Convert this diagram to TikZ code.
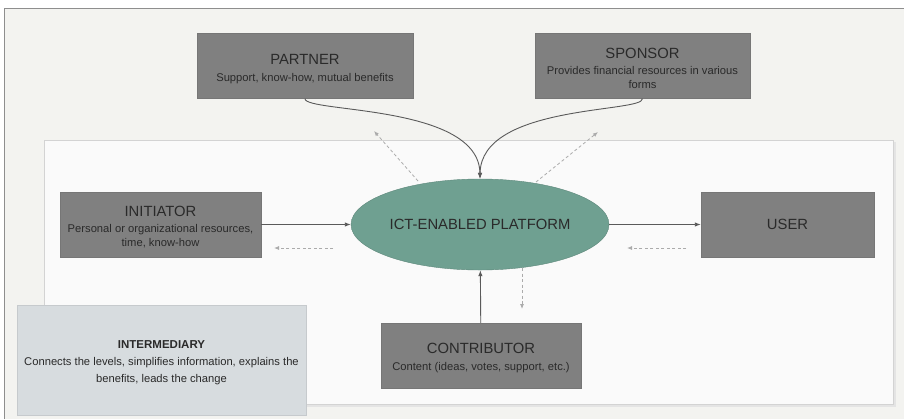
\documentclass[tikz,border=0pt]{standalone}
\usepackage{fontspec}
\setmainfont{Liberation Sans}
\usetikzlibrary{arrows.meta,shapes.geometric}
\definecolor{Backdrop}{HTML}{F3F3F0}
\definecolor{Frame}{HTML}{8E8E8E}
\definecolor{Panel}{HTML}{FAFAFA}
\definecolor{PanelLine}{HTML}{D3D3D3}
\definecolor{Actor}{HTML}{808080}
\definecolor{Ink}{HTML}{2A2A2A}
\definecolor{Platform}{HTML}{6FA091}
\definecolor{Bridge}{HTML}{D7DCDF}
\definecolor{Flow}{HTML}{5A5A5A}
\definecolor{Back}{HTML}{ABABAB}
\newcommand{\titlesize}{\fontsize{14.8bp}{18bp}\selectfont\rule{0pt}{16bp}}
\newcommand{\subsize}{\fontsize{11.2bp}{14bp}\selectfont}
\tikzset{
 actor/.style={draw=Actor!92!black, fill=Actor, text=Ink, align=center, inner sep=2pt, minimum height=65bp, font=\subsize},
 platform/.style={ellipse, draw=Platform!85!black, fill=Platform, text=Ink, inner sep=0pt, minimum width=258bp, minimum height=91bp, font=\fontsize{14.8bp}{18bp}\selectfont},
 bridge/.style={draw=Bridge!92!black, fill=Bridge, text=Ink, align=center, inner sep=2pt, minimum width=289bp, minimum height=110bp, font=\subsize},
 flow/.style={-{Latex[length=6bp,width=4.5bp]}, draw=Flow, line width=0.9bp},
 backflow/.style={-{Latex[length=5bp,width=4bp]}, draw=Back, line width=0.8bp, dash pattern=on 3bp off 2.5bp}
}

\begin{document}
\begin{tikzpicture}[x=1bp,y=-1bp]
\useasboundingbox (0,0) rectangle (904,419);
% backdrop and panel
\fill[white] (0,0) rectangle (904,419);
\draw[draw=Frame, fill=Backdrop, line width=1bp] (4,419) -- (4,8) -- (904,8);
\fill[Backdrop] (4.5,8.5) rectangle (904,419);
\fill[PanelLine!60] (46,142) rectangle (896,407);
\draw[draw=PanelLine, fill=Panel, line width=1bp] (44,140) rectangle (893,404);

% actors
\node[actor, minimum width=216bp] (partner) at (305,66)
  {{\titlesize PARTNER}\\[3bp]Support, know-how, mutual benefits};
\node[actor, minimum width=215bp] (sponsor) at (642.5,66)
  {{\titlesize SPONSOR}\\[2bp]Provides financial resources in various\\forms};
\node[actor, minimum width=201bp] (initiator) at (160.5,224.5)
  {{\titlesize INITIATOR}\\[2bp]Personal or organizational resources,\\time, know-how};
\node[actor, minimum width=173bp, font=\fontsize{14.8bp}{18bp}\selectfont] (user) at (787.5,224.5) {USER};
\node[actor, minimum width=200bp] (contributor) at (481,355.5)
  {{\titlesize CONTRIBUTOR}\\[3bp]Content (ideas, votes, support, etc.)};
\node[platform] (ict) at (480,224.5) {ICT-ENABLED PLATFORM};
\node[bridge] (intermediary) at (161.5,360)
  {{\fontsize{11.5bp}{14bp}\selectfont\bfseries\rule{0pt}{14bp}INTERMEDIARY}\\[3bp]
   Connects the levels, simplifies information, explains the\\[3bp]
   benefits, leads the change};

% free ends of the return flows
\coordinate (pl0) at (418,181);
\coordinate (pl1) at (374,131);
\coordinate (sp0) at (536,182);
\coordinate (sp1) at (598,132);
\coordinate (in0) at (333,248);
\coordinate (in1) at (274,248);
\coordinate (us0) at (686,248);
\coordinate (us1) at (627,248);
\coordinate (co0) at (522,268);
\coordinate (co1) at (522,309);

% main flows
\draw[flow] (partner.south) .. controls (305,113) and (479,104) .. (ict.north);
\draw[flow] (sponsor.south) .. controls (643,113) and (481,104) .. (ict.north);
\draw[flow] (initiator) -- (ict);
\draw[flow] (ict) -- (user);
\draw[flow] (contributor) -- (ict);

% return flows
\draw[backflow] (pl0) -- (pl1);
\draw[backflow] (sp0) -- (sp1);
\draw[backflow] (in0) -- (in1);
\draw[backflow] (us0) -- (us1);
\draw[backflow] (co0) -- (co1);
\end{tikzpicture}
\end{document}
